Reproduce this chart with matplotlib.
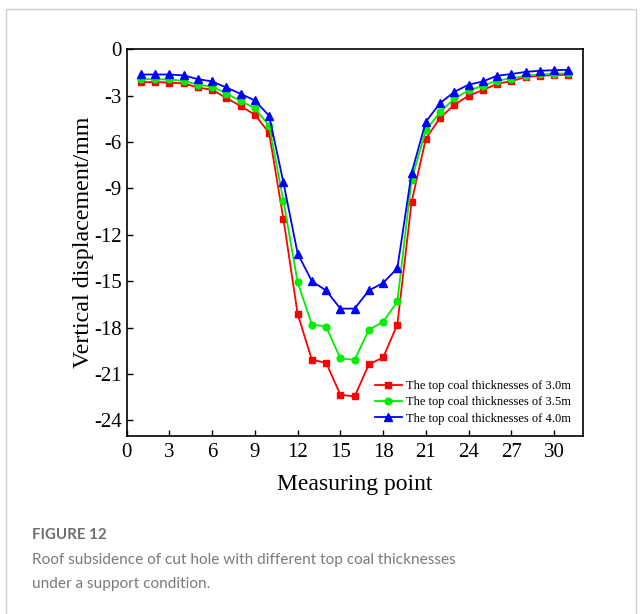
import matplotlib
matplotlib.use("Agg")
import matplotlib.pyplot as plt
from matplotlib.patches import Rectangle

# measuring points and vertical displacement (mm) for each top coal thickness
points = list(range(1, 32))
disp_30 = [-2.13, -2.13, -2.16, -2.22, -2.48, -2.63, -3.16, -3.68, -4.24, -5.42,
           -10.96, -17.11, -20.08, -20.27, -22.34, -22.45, -20.38, -19.93, -17.80,
           -9.88, -5.79, -4.44, -3.60, -3.01, -2.65, -2.24, -2.07, -1.81, -1.72,
           -1.68, -1.66]
disp_35 = [-1.94, -1.94, -1.96, -2.05, -2.30, -2.43, -2.87, -3.36, -3.83, -4.95,
           -9.79, -15.07, -17.80, -17.93, -19.99, -20.08, -18.14, -17.63, -16.31,
           -8.44, -5.25, -4.07, -3.19, -2.67, -2.37, -2.03, -1.90, -1.72, -1.64,
           -1.59, -1.57]
disp_40 = [-1.64, -1.64, -1.64, -1.70, -1.94, -2.09, -2.48, -2.89, -3.32, -4.31,
           -8.61, -13.21, -15.00, -15.60, -16.77, -16.77, -15.60, -15.11, -14.16,
           -8.00, -4.69, -3.49, -2.76, -2.30, -2.09, -1.72, -1.61, -1.47, -1.40,
           -1.36, -1.34]
labels = ["The top coal thicknesses of 3.0m",
          "The top coal thicknesses of 3.5m",
          "The top coal thicknesses of 4.0m"]
xticks = list(range(0, 33, 3))
yticks = list(range(0, -25, -3))

fig = plt.figure(figsize=(6.43, 6.14), dpi=100)

# light frame around the figure panel
fig.patches.append(Rectangle((6 / 643, -0.05), 630 / 643, 1.05 - 9 / 614,
                             transform=fig.transFigure, fill=False,
                             edgecolor="#cfcfcf", linewidth=1.0))

ax = fig.add_axes([0.197, 0.290, 0.709, 0.630])
serif = "Liberation Serif"

ax.plot(points, disp_30, color="#ff0000", marker="s", markersize=4.5, linewidth=1.3, label=labels[0])
ax.plot(points, disp_35, color="#00ee00", marker="o", markersize=4.8, linewidth=1.3, label=labels[1])
ax.plot(points, disp_40, color="#0000ff", marker="^", markersize=5.2, linewidth=1.3, label=labels[2])

ax.set_xlim(0, 32)
ax.set_ylim(-25, 0)
ax.set_xticks(xticks)
ax.set_yticks(yticks)
ax.set_xticklabels([str(t) for t in xticks], fontfamily=serif, fontsize=15)
ax.set_yticklabels([str(t) for t in yticks], fontfamily=serif, fontsize=15)
ax.tick_params(direction="in", length=4, width=1, top=False, right=False)
ax.tick_params(axis="x", pad=5)
ax.tick_params(axis="y", pad=3.5)
for s in ax.spines.values():
    s.set_linewidth(1.2)

ax.set_xlabel("Measuring point", fontfamily=serif, fontsize=17, labelpad=9)
ax.set_ylabel("Vertical displacement/mm", fontfamily=serif, fontsize=17.3, labelpad=0)

ax.legend(loc="lower right", frameon=False, prop={"family": serif, "size": 9},
          handlelength=2.2, handletextpad=0.35, labelspacing=0.35,
          bbox_to_anchor=(1.0, 0.0))

fig.text(32 / 643, 1 - 535 / 614, "FIGURE 12", fontfamily="Lato", fontweight="bold",
         fontsize=10.8, color="#6e6e6e", va="center", ha="left")
fig.text(32 / 643, 1 - 560 / 614, "Roof subsidence of cut hole with different top coal thicknesses",
         fontfamily="Lato", fontsize=11.1, color="#7a7a7a", va="center", ha="left")
fig.text(32 / 643, 1 - 584 / 614, "under a support condition.",
         fontfamily="Lato", fontsize=11.1, color="#7a7a7a", va="center", ha="left")

fig.savefig("out.png", dpi=100)
plt.close(fig)
